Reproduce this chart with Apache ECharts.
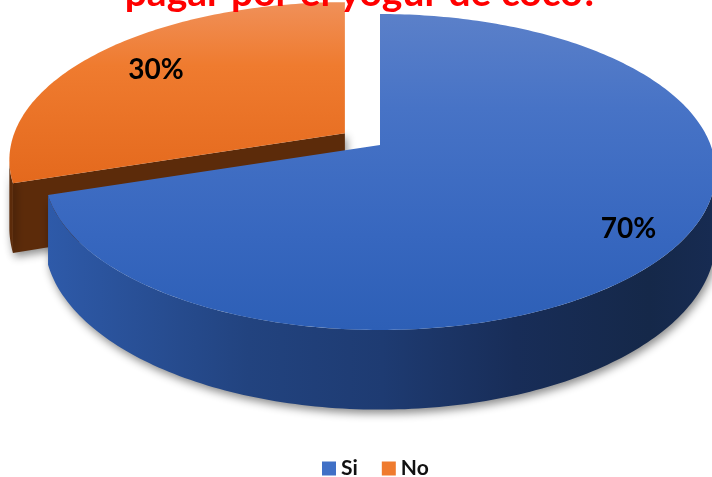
<!DOCTYPE html>
<html><head><meta charset="utf-8">
<script src="https://cdn.jsdelivr.net/npm/echarts@6/dist/echarts.min.js"></script>
<style>html,body{margin:0;padding:0;background:#fff}#c{width:712px;height:477px}</style>
</head><body><div id="c"></div>
<script>
// ---- data ----
const categories = ['Si', 'No'];
const values = [70, 30];
const titleText = 'pagar por el yogur de coco?';

// ---- view / style config ----
const CX = 380, B0 = 145, B1 = -128.6, K = 0.1709, A = 330.6, DEPTH = 66;
const explode = [0, 0.133];
const labelRadius = [0.85, 0.76];
const legendColors = ['#4070c6', '#ef7b2e'];
const topStops = [
  [[0, '#5b80c9'], [0.3, '#4773c6'], [0.7, '#3767bf'], [1, '#2d5fb6']],
  [[0, '#f09059'], [0.35, '#ef7b2f'], [1, '#e4691d']]
];
const sideStops = [
  [[0, '#2e5aa9'], [0.3, '#22437f'], [0.5, '#1e3b72'], [0.7, '#182d58'], [0.9, '#152849'], [1, '#172b52']],
  [[0, '#5c2b0a'], [1, '#5c2b0a']]
];
const wallColors = ['#1d3a70', '#5c2b0a'];

const total = values.reduce((a, b) => a + b, 0);

function grad(x2, y2, stops) {
  return new echarts.graphic.LinearGradient(0, 0, x2, y2,
    stops.map(s => ({ offset: s[0], color: s[1] })));
}
function proj(u, v, drop) {
  const w = 1 + K * v;
  return [CX + A * u / w, (B0 + B1 * v) / w + (drop ? DEPTH / w : 0)];
}

function renderItem(params, api) {
  const i = params.seriesIndex;
  const val = api.value(0);
  let before = 0;
  for (let j = 0; j < i; j++) before += values[j];
  const t0 = before / total * 2 * Math.PI;
  const t1 = (before + val) / total * 2 * Math.PI;
  const tm = (t0 + t1) / 2;
  const e = explode[i];
  const p0 = proj(0, 0, false);
  const pe = proj(e * Math.sin(tm), e * Math.cos(tm), false);
  const dx = pe[0] - p0[0], dy = pe[1] - p0[1];
  const P = (u, v, drop) => { const p = proj(u, v, drop); return [p[0] + dx, p[1] + dy]; };
  const rim = (t, drop) => P(Math.sin(t), Math.cos(t), drop);
  const arc = (a, b, drop) => {
    const n = Math.max(2, Math.ceil((b - a) / (Math.PI / 180)));
    const pts = [];
    for (let k = 0; k <= n; k++) pts.push(rim(a + (b - a) * k / n, drop));
    return pts;
  };
  const shadow = { shadowBlur: 8, shadowColor: 'rgba(0,0,0,0.45)', shadowOffsetX: 2, shadowOffsetY: 4 };
  const children = [];
  const camV = -1 / K;
  // radial walls (only those facing the viewer)
  [[t0, -1], [t1, 1]].forEach(([t, s]) => {
    const nt = t + s * Math.PI / 2;
    const dot = Math.cos(nt) * camV;
    if (dot > 1e-6) {
      children.push({
        type: 'polygon',
        shape: { points: [P(0, 0, false), rim(t, false), rim(t, true), P(0, 0, true)] },
        style: Object.assign({ fill: wallColors[i] }, shadow)
      });
    }
  });
  // outer wall, front part
  const vis0 = Math.acos(-K), vis1 = 2 * Math.PI - vis0;
  const a = Math.max(t0, vis0), b = Math.min(t1, vis1);
  if (b > a) {
    const pts = arc(a, b, false).concat(arc(a, b, true).reverse());
    children.push({
      type: 'polygon',
      shape: { points: pts },
      style: Object.assign({ fill: grad(1, 0, sideStops[i]) }, shadow)
    });
  }
  // top face
  children.push({
    type: 'polygon',
    shape: { points: [P(0, 0, false)].concat(arc(t0, t1, false)) },
    style: { fill: grad(0, 1, topStops[i]) }
  });
  // label
  const lr = labelRadius[i];
  const lp = P(lr * Math.sin(tm), lr * Math.cos(tm), false);
  children.push({
    type: 'text',
    x: lp[0], y: lp[1],
    style: {
      text: Math.round(val / total * 100) + '%',
      fill: '#000', fontSize: 28, fontWeight: 'bold', fontFamily: 'Lato',
      align: 'center', verticalAlign: 'middle'
    }
  });
  return { type: 'group', children };
}

const chart = echarts.init(document.getElementById('c'), null, { renderer: 'canvas' });
chart.setOption({
  animation: false,
  backgroundColor: '#fff',
  graphic: [{
    type: 'text', x: 362, y: -7, z: 10,
    style: {
      text: titleText, fill: '#ff0000', fontSize: 39, fontWeight: 'bold', fontFamily: 'Lato',
      align: 'center', verticalAlign: 'middle'
    }
  }],
  legend: {
    data: categories,
    left: 322, top: 458, padding: 0,
    icon: 'rect', itemWidth: 14, itemHeight: 14, itemGap: 24,
    textStyle: { fontFamily: 'Lato', fontWeight: 'bold', fontSize: 21, color: '#111', padding: [0, 0, 0, 0] }
  },
  series: categories.map((name, i) => ({
    type: 'custom',
    name: name,
    coordinateSystem: 'none',
    z: i === 0 ? 3 : 2,
    itemStyle: { color: legendColors[i] },
    renderItem: renderItem,
    data: [[values[i]]]
  }))
});
</script></body></html>
